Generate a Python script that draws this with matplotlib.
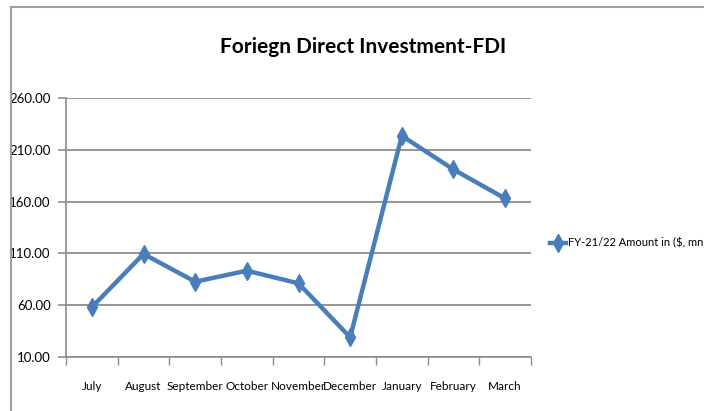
import matplotlib.pyplot as plt
from matplotlib.lines import Line2D

# Data
months = ["July", "August", "September", "October", "November",
          "December", "January", "February", "March"]
amount = [58.0, 109.5, 82.7, 93.3, 81.1, 29.0, 223.5, 191.0, 163.0]
yticks = [10, 60, 110, 160, 210, 260]
series_name = "FY-21/22 Amount in ($, mn)"

plt.rcParams['font.family'] = ['Lato', 'DejaVu Sans']

blue = "#4a7ebb"
grey = "#8c8c8c"

fig = plt.figure(figsize=(7.04, 4.11), dpi=100)
ax = fig.add_axes([66 / 704, 1 - 357 / 411, 465 / 704, 259 / 411])

x = list(range(len(months)))
ax.plot(x, amount, color=blue, lw=3.2, marker="d", markersize=9,
        markeredgecolor=blue, label=series_name)

# axes setup
ax.set_xlim(-0.5, len(months) - 0.5)
ax.set_ylim(10, 260)
ax.set_yticks(yticks)
ax.set_yticklabels([f"{v:.2f}" for v in yticks], fontsize=9.5)
ax.set_xticks(x)
ax.set_xticklabels(months, fontsize=8.5)
ax.tick_params(axis="x", length=0, pad=17)
ax.set_xticks([i - 0.5 for i in range(len(months) + 1)], minor=True)
ax.tick_params(axis="x", which="minor", length=6, color=grey, width=1)
ax.tick_params(axis="y", length=6, color=grey, width=1.2, pad=5)

ax.grid(axis="y", color=grey, lw=1.3)
ax.set_axisbelow(True)
for s in ["top", "right"]:
    ax.spines[s].set_visible(False)
for s in ["left", "bottom"]:
    ax.spines[s].set_color(grey)
    ax.spines[s].set_linewidth(1.2)

fig.text(363 / 704, 1 - 47 / 411, "Foriegn Direct Investment-FDI",
         ha="center", va="center", fontsize=15, fontweight="bold")

ax.legend(loc="center left", bbox_to_anchor=(1.04, 0.44), frameon=False,
          fontsize=8, handlelength=1.5, handletextpad=0.15, borderaxespad=0,
          borderpad=0)

# chart border
fig.add_artist(Line2D([11 / 704, 11 / 704], [0, 1 - 7 / 411], color="#a0a0a0", lw=1.5))
fig.add_artist(Line2D([11 / 704, 1], [1 - 7 / 411, 1 - 7 / 411], color="#a0a0a0", lw=1.5))

fig.savefig("out.png", dpi=100)
